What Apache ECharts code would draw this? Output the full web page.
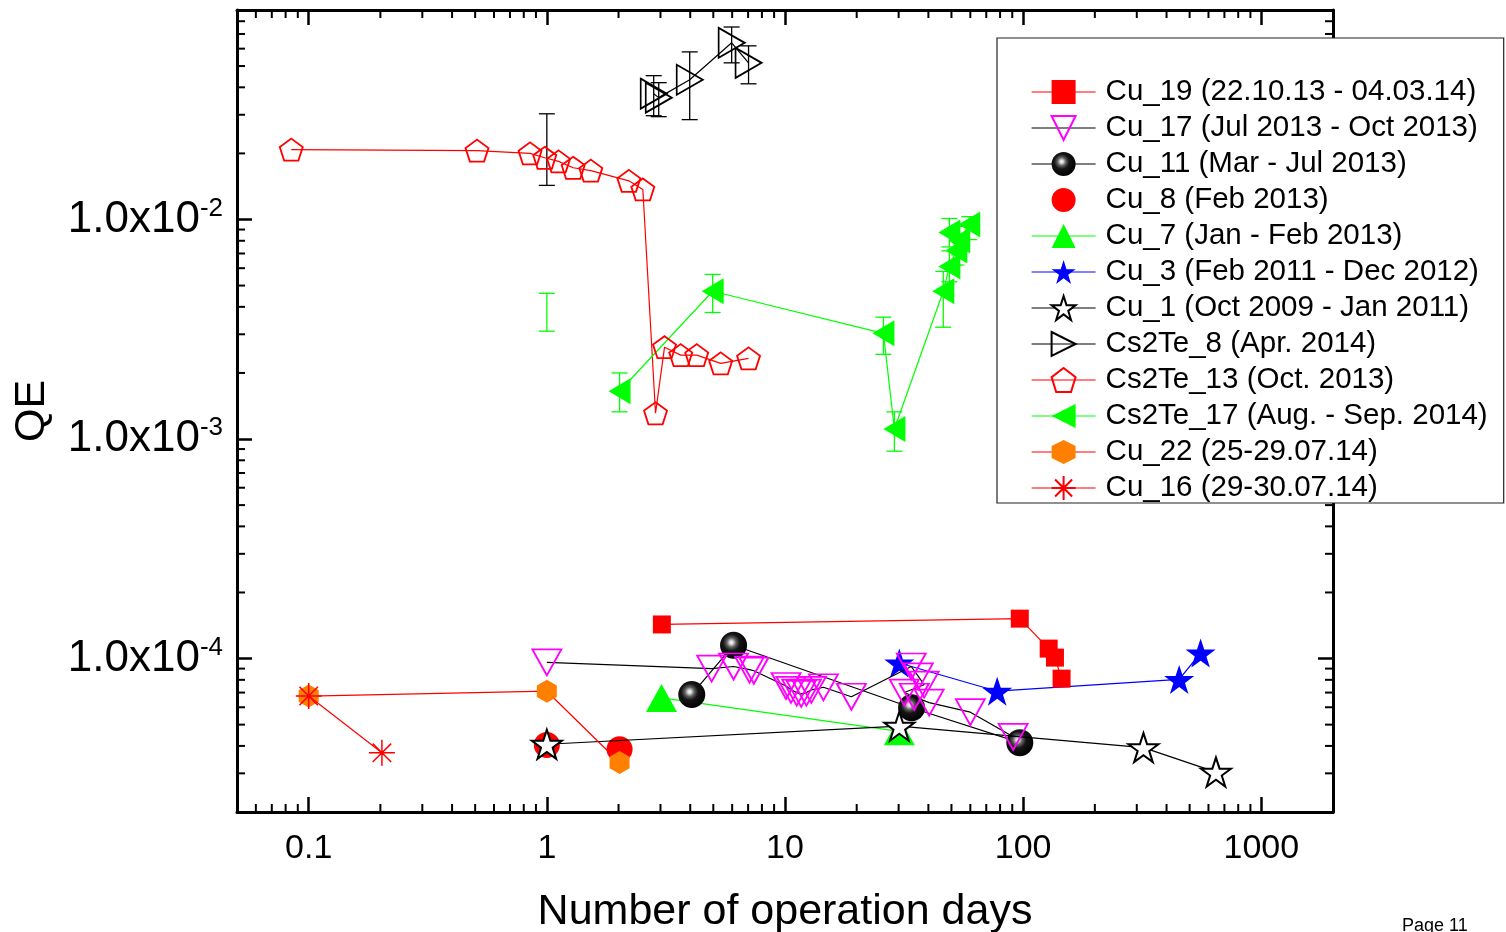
<!DOCTYPE html>
<html><head><meta charset="utf-8">
<script src="https://cdn.jsdelivr.net/npm/echarts@6/dist/echarts.min.js"></script>
<style>html,body{margin:0;padding:0;background:#fff;}#c{width:1506px;height:932px;}</style>
</head><body><div id="c"></div>
<script>
// ---------- axis ticks ----------
const xTickValues = [0.1, 1, 10, 100, 1000];
const xTickLabels = ['0.1', '1', '10', '100', '1000'];
const yTickValues = [1e-4, 1e-3, 1e-2];
const yTickMantissa = ['1.0x10', '1.0x10', '1.0x10'];
const yTickExponents = ['-4', '-3', '-2'];

// ---------- data: [days, QE] ----------
const cu19 = [[3.04,1.43e-4],[96.8,1.52e-4],[128,1.11e-4],[136,1.01e-4],[145,8.1e-5]];
const cu17 = [[1.0,9.6e-5],[4.92,9.0e-5],[6.08,9.2e-5],[7.1,8.9e-5],[7.4,8.8e-5],
  [10.1,7.5e-5],[10.6,7.2e-5],[11.2,7.0e-5],[11.7,6.9e-5],[12.3,7.0e-5],[12.9,7.2e-5],[14.5,7.4e-5],[19.0,6.7e-5],
  [33.9,9.2e-5],[36.3,8.3e-5],[38.4,7.6e-5],[31.7,7.0e-5],[34.9,6.7e-5],[40.3,6.3e-5],[60.0,5.7e-5],[90.8,4.4e-5]];
const cu11 = [[4.06,6.86e-5],[6.08,1.15e-4],[34.0,5.97e-5],[96.8,4.14e-5]];
const cu8 = [[1.0,4.04e-5],[2.02,3.86e-5]];
const cu7 = [[3.03,6.62e-5],[30.2,4.66e-5]];
const cu3 = [[30.2,9.54e-5],[77.8,7.10e-5],[452,8.03e-5],[556,1.06e-4]];
const cu1 = [[1.0,4.07e-5],[30.2,4.92e-5],[320,3.93e-5],[645,3.04e-5]];
const cs2te8 = [[2.81,0.0374],[2.95,0.0359],[3.98,0.0433],[5.97,0.0638],[7.03,0.0517]];
const cs2te13 = [[0.0845,0.0208],[0.509,0.0206],[0.85,0.0200],[0.98,0.0191],[1.12,0.0184],[1.29,0.0172],
  [1.53,0.0167],[2.21,0.0150],[2.53,0.0137],[2.86,0.00131],[3.12,0.00262],[3.65,0.00241],[4.26,0.00241],
  [5.37,0.00221],[7.03,0.00233]];
const cs2te17 = [[2.02,0.00165],[4.97,0.00471],[25.9,0.00303],[28.8,0.00111],[46.2,0.00471],[49.0,0.00611],
  [52.4,0.00723],[49.0,0.00873],[53.9,0.00803],[59.4,0.00949]];
const cu22 = [[0.1,6.75e-5],[1.0,7.10e-5],[2.02,3.36e-5]];
const cu16 = [[0.1,6.75e-5],[0.203,3.72e-5]];

// error bars: [days, low, high]
const cs2te8Err = [[2.81,0.0297,0.0452],[2.95,0.0294,0.042],[3.98,0.0285,0.058],[5.97,0.0517,0.0753],
  [7.03,0.0415,0.0618],[1.0,0.0143,0.0303]];
const cs2te17Err = [[2.02,0.00133,0.0020],[4.97,0.00377,0.00562],[25.9,0.00243,0.00359],[28.8,0.00088,0.00133],
  [46.2,0.00323,0.0058],[49.0,0.0052,0.0072],[52.4,0.0062,0.0084],[49.0,0.0075,0.0101],[53.9,0.0069,0.0093],
  [59.4,0.0081,0.0103],[1.0,0.0031,0.00461]];

const legendNames = ['Cu_19 (22.10.13 - 04.03.14)','Cu_17 (Jul 2013 - Oct 2013)','Cu_11 (Mar - Jul 2013)',
  'Cu_8 (Feb 2013)','Cu_7 (Jan - Feb 2013)','Cu_3 (Feb 2011 - Dec 2012)','Cu_1 (Oct 2009 - Jan 2011)',
  'Cs2Te_8 (Apr. 2014)','Cs2Te_13 (Oct. 2013)','Cs2Te_17 (Aug. - Sep. 2014)','Cu_22 (25-29.07.14)','Cu_16 (29-30.07.14)'];

// ---------- styling ----------
const X_MIN = 0.05, X_MAX = 2000, Y_MIN = 2e-5, Y_MAX = 0.09;
const FONT = 'Liberation Sans, Arial, sans-serif';
const RED = '#ff0000', GREEN = '#00ff00', BLUE = '#0000ff', MAG = '#ff00ff', ORANGE = '#ff8000';

const SYM = {
  down: 'path://M0,0 L20,0 L10,17.3 Z',
  right: 'path://M0,0 L17.3,10 L0,20 Z',
  left: 'path://M17.3,0 L0,10 L17.3,20 Z',
  pent: 'path://M50,0 L97.6,34.5 L79.4,90.5 L20.6,90.5 L2.4,34.5 Z',
  hex: 'path://M43.3,0 L86.6,25 L86.6,75 L43.3,100 L0,75 L0,25 Z',
  star: 'path://M50,0 L61.8,35.4 L99,35.4 L69,57.3 L80.4,92.7 L50,70.8 L19.6,92.7 L31,57.3 L1,35.4 L38.2,35.4 Z',
  ast: 'path://M10,0 L10,20 M0,10 L20,10 M2.9,2.9 L17.1,17.1 M17.1,2.9 L2.9,17.1'
};
const sphere = {type:'radial', x:0.42, y:0.4, r:0.62, colorStops:[
  {offset:0,color:'#ffffff'},{offset:0.12,color:'#d0d0d0'},{offset:0.28,color:'#606060'},
  {offset:0.5,color:'#151515'},{offset:1,color:'#000000'}]};

function ser(name, data, symbol, size, item, lineColor, z, noLine) {
  return {
    name, type:'line', data, symbol, symbolSize:size, z,
    showSymbol:true, animation:false, clip:true,
    lineStyle:{color:lineColor, width:noLine?0:1.2, opacity:noLine?0:1},
    itemStyle:item, emphasis:{disabled:true}
  };
}

const minorX = [];
for (let e = -2; e <= 3; e++) for (let m = 2; m <= 9; m++) {
  const v = m * Math.pow(10, e); if (v > X_MIN && v < X_MAX) minorX.push([v, Y_MIN]);
}
const minorY = [];
for (let e = -5; e <= -2; e++) for (let m = 2; m <= 9; m++) {
  const v = m * Math.pow(10, e); if (v > Y_MIN && v < Y_MAX) minorY.push([X_MIN, v]);
}

function errSeries(data, color, z) {
  return {type:'custom', data, z, silent:true, animation:false, clip:false,
    encode:{x:0, y:[1,2]},
    renderItem(params, api){
      const a = api.coord([api.value(0), api.value(1)]);
      const b = api.coord([api.value(0), api.value(2)]);
      const w = 8, st = {stroke:color, lineWidth:1.3};
      return {type:'group', children:[
        {type:'line', shape:{x1:a[0],y1:a[1],x2:b[0],y2:b[1]}, style:st},
        {type:'line', shape:{x1:a[0]-w,y1:a[1],x2:a[0]+w,y2:a[1]}, style:st},
        {type:'line', shape:{x1:b[0]-w,y1:b[1],x2:b[0]+w,y2:b[1]}, style:st}]};
    }};
}

function inList(v, list) {
  for (let i = 0; i < list.length; i++) if (Math.abs(Math.log10(v) - Math.log10(list[i])) < 1e-6) return i;
  return -1;
}

const axisLine = {show:true, onZero:false, lineStyle:{color:'#000', width:3}};
const majorTick = {show:true, inside:true, length:15, lineStyle:{color:'#000', width:2.5}};

const option = {
  backgroundColor:'#fff',
  animation:false,
  grid:{left:237, top:10, right:173, bottom:120, containLabel:false, outerBoundsMode:'none'},
  xAxis:[
    {type:'log', logBase:10, min:X_MIN, max:X_MAX, position:'bottom', axisLine, axisTick:majorTick,
     splitLine:{show:false}, minorTick:{show:false},
     axisLabel:{show:true, margin:20, fontSize:34, fontFamily:FONT, color:'#000',
       showMinLabel:true, showMaxLabel:true,
       formatter:(v)=>{const i=inList(v,xTickValues); return i<0?'':xTickLabels[i];}},
     name:'Number of operation days', nameLocation:'middle', nameGap:79,
     nameTextStyle:{fontSize:43, fontFamily:FONT, color:'#000'}},
    {type:'log', logBase:10, min:X_MIN, max:X_MAX, position:'top', axisLine, axisTick:majorTick,
     splitLine:{show:false}, axisLabel:{show:false}}
  ],
  yAxis:[
    {type:'log', logBase:10, min:Y_MIN, max:Y_MAX, position:'left', axisLine, axisTick:majorTick,
     splitLine:{show:false},
     axisLabel:{show:true, margin:14, color:'#000',
       formatter:(v)=>{const i=inList(v,yTickValues); return i<0?'':'{m|'+yTickMantissa[i]+'}{e|'+yTickExponents[i]+'}';},
       rich:{m:{fontSize:44, fontFamily:FONT, color:'#000', lineHeight:48},
             e:{fontSize:26, fontFamily:FONT, color:'#000', lineHeight:26, verticalAlign:'top'}}},
     name:'QE', nameLocation:'middle', nameGap:183, nameRotate:90,
     nameTextStyle:{fontSize:43, fontFamily:FONT, color:'#000'}},
    {type:'log', logBase:10, min:Y_MIN, max:Y_MAX, position:'right', axisLine, axisTick:majorTick,
     splitLine:{show:false}, axisLabel:{show:false}}
  ],
  legend:{
    orient:'vertical', left:997, top:38, padding:[39,16,0,34],
    data:legendNames, itemWidth:64, itemHeight:30, itemGap:6,
    backgroundColor:'#fff', borderColor:'#222', borderWidth:1.2, borderRadius:0,
    textStyle:{fontSize:29.5, fontFamily:FONT, color:'#000', lineHeight:30, padding:[0,0,0,5]},
    lineStyle:{width:1.2}, selectedMode:false, z:20
  },
  graphic:[{type:'text', left:1402, top:917, z:30,
    style:{text:'Page 11', fontSize:18, fontFamily:FONT, fill:'#000'}}],
  series:[
    {type:'custom', data:minorX, encode:{x:0,y:1}, silent:true, clip:false, z:1, animation:false,
     renderItem(params, api){
       const p = api.coord([api.value(0), api.value(1)]); const cs = params.coordSys;
       const st = {stroke:'#000', lineWidth:2};
       return {type:'group', children:[
         {type:'line', shape:{x1:p[0],y1:cs.y+cs.height,x2:p[0],y2:cs.y+cs.height-8}, style:st},
         {type:'line', shape:{x1:p[0],y1:cs.y,x2:p[0],y2:cs.y+8}, style:st}]};
     }},
    {type:'custom', data:minorY, encode:{x:0,y:1}, silent:true, clip:false, z:1, animation:false,
     renderItem(params, api){
       const p = api.coord([api.value(0), api.value(1)]); const cs = params.coordSys;
       const st = {stroke:'#000', lineWidth:2};
       return {type:'group', children:[
         {type:'line', shape:{x1:cs.x,y1:p[1],x2:cs.x+8,y2:p[1]}, style:st},
         {type:'line', shape:{x1:cs.x+cs.width,y1:p[1],x2:cs.x+cs.width-8,y2:p[1]}, style:st}]};
     }},
    errSeries(cs2te8Err, '#000', 3),
    errSeries(cs2te17Err, GREEN, 3),
    ser(legendNames[0], cu19, 'rect', 18, {color:RED, borderWidth:0}, RED, 4),
    ser(legendNames[2], cu11, 'circle', 27, {color:sphere, borderWidth:0}, '#000', 4),
    ser(legendNames[5], cu3, SYM.star, [30,29], {color:BLUE, borderWidth:0}, BLUE, 4),
    ser(legendNames[3], cu8, 'circle', 26, {color:RED, borderWidth:0}, RED, 4, true),
    ser(legendNames[4], cu7, 'triangle', [31,28], {color:GREEN, borderWidth:0}, GREEN, 4),
    ser(legendNames[6], cu1, SYM.star, [30,29], {color:'#fff', borderColor:'#000', borderWidth:2}, '#000', 5),
    ser(legendNames[1], cu17, SYM.down, [29,26], {color:'rgba(255,255,255,0)', borderColor:MAG, borderWidth:1.8}, '#000', 6),
    ser(legendNames[7], cs2te8, SYM.right, [26,30], {color:'rgba(255,255,255,0)', borderColor:'#000', borderWidth:1.8}, '#000', 6),
    ser(legendNames[8], cs2te13, SYM.pent, [23,22], {color:'rgba(255,255,255,0)', borderColor:RED, borderWidth:1.8}, RED, 6),
    ser(legendNames[9], cs2te17, SYM.left, [22,26], {color:GREEN, borderWidth:0}, GREEN, 6),
    ser(legendNames[10], cu22, SYM.hex, [20,23], {color:ORANGE, borderWidth:0}, RED, 6),
    ser(legendNames[11], cu16, SYM.ast, [26,26], {color:'rgba(255,255,255,0)', borderColor:RED, borderWidth:1.5}, RED, 7)
  ]
};

const chart = echarts.init(document.getElementById('c'), null, {renderer:'canvas', width:1506, height:932});
chart.setOption(option);
</script></body></html>
